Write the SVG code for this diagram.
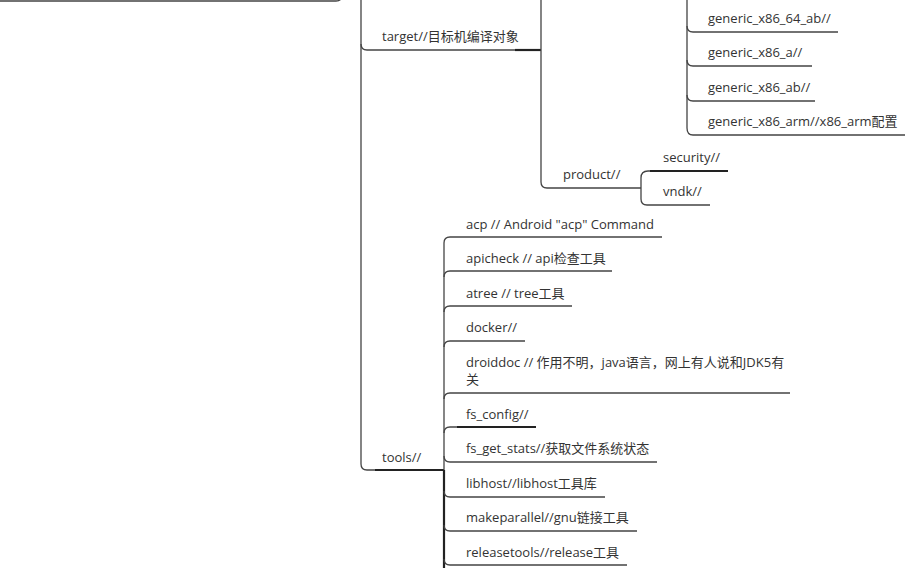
<svg xmlns="http://www.w3.org/2000/svg" width="917" height="568" viewBox="0 0 917 568">
<style>
text{font-family:"Open Sans","Noto Sans CJK SC",sans-serif;font-size:13px;fill:#333}
.l{fill:none;stroke:#444;stroke-width:1.3}
.t{fill:none;stroke:#222;stroke-width:2.2}
</style>
<rect width="917" height="568" fill="#fff"/>
<g id="connectors">
<path class="l" d="M0,1 H336 Q342,1 342,-5"/>
<path class="l" d="M361,-5 V44 Q361,50 367,50 H541"/>
<path class="l" d="M361,44 V464 Q361,470 367,470 H444"/>
<path class="t" d="M375,470 H444"/>
<path class="t" d="M515,50 H541"/>
<path class="l" d="M541,-5 V182 Q541,188 547,188 H641"/>
<path class="l" d="M641,178 Q641,171 648,171 H728"/>
<path class="t" d="M650,171 H728"/>
<path class="l" d="M641,178 V199 Q641,205 647,205 H710"/>
<path class="l" d="M687,-5 V128 Q687,135 693,135 H905"/>
<path class="l" d="M687,26 Q687,32 693,32 H838"/>
<path class="l" d="M687,60 Q687,66 693,66 H812"/>
<path class="l" d="M687,95 Q687,101 693,101 H815"/>
<path class="l" d="M444,243 Q444,237 450,237 H662"/>
<path class="l" d="M444,243 V568"/>
<path class="t" d="M444,470 V568"/>
<path class="l" d="M444,277 Q444,271 450,271 H612"/>
<path class="l" d="M444,312 Q444,306 450,306 H572"/>
<path class="l" d="M444,347 Q444,341 450,341 H525"/>
<path class="l" d="M444,399 Q444,393 450,393 H790"/>
<path class="l" d="M444,433 Q444,427 450,427 H457"/>
<path class="t" d="M457,427 H536"/>
<path class="l" d="M444,456 Q444,462 450,462 H657"/>
<path class="l" d="M444,491 Q444,497 450,497 H605"/>
<path class="l" d="M444,525 Q444,531 450,531 H637"/>
<path class="l" d="M444,559 Q444,565 450,565 H627"/>
</g>
<g id="target"><text x="382" y="41">target//目标机编译对象</text></g>
<g id="tools"><text x="382" y="462">tools//</text></g>
<g id="product"><text x="563" y="179">product//</text></g>
<g id="security"><text x="663" y="162">security//</text></g>
<g id="vndk"><text x="663" y="196">vndk//</text></g>
<g id="g64ab"><text x="708" y="23">generic_x86_64_ab//</text></g>
<g id="ga"><text x="708" y="57">generic_x86_a//</text></g>
<g id="gab"><text x="708" y="92">generic_x86_ab//</text></g>
<g id="garm"><text x="708" y="126">generic_x86_arm//x86_arm配置</text></g>
<g id="acp"><text x="466" y="229">acp // Android "acp" Command</text></g>
<g id="apicheck"><text x="466" y="263">apicheck // api检查工具</text></g>
<g id="atree"><text x="466" y="298">atree // tree工具</text></g>
<g id="docker"><text x="466" y="332">docker//</text></g>
<g id="droiddoc"><text x="466" y="367">droiddoc // 作用不明，java语言，网上有人说和JDK5有</text><text x="466" y="384">关</text></g>
<g id="fsconfig"><text x="466" y="419">fs_config//</text></g>
<g id="fsgetstats"><text x="466" y="453">fs_get_stats//获取文件系统状态</text></g>
<g id="libhost"><text x="466" y="488">libhost//libhost工具库</text></g>
<g id="makeparallel"><text x="466" y="522">makeparallel//gnu链接工具</text></g>
<g id="releasetools"><text x="466" y="557">releasetools//release工具</text></g>
</svg>
